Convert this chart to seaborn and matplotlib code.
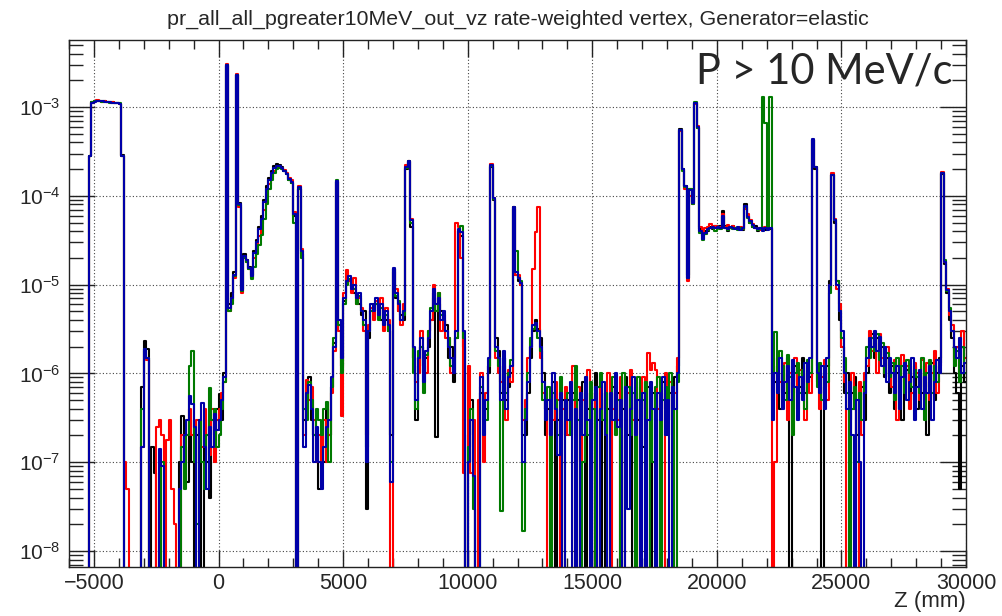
import numpy as np
import pandas as pd
import matplotlib
matplotlib.use("Agg")
import matplotlib.pyplot as plt
import matplotlib.ticker as mticker
import seaborn as sns

# rate per 100 mm bin in vz, bins from -6000 mm to 30000 mm
z_low, z_high, z_step = -6000, 30000, 100

rate_black = [
    0, 0, 0, 0, 0, 0, 0, 0, 2.8e-4, 1.13e-3, 1.16e-3, 1.17e-3, 1.18e-3, 1.17e-3, 1.16e-3, 1.15e-3, 1.14e-3, 1.13e-3, 1.12e-3, 1.11e-3,
    1.09e-3, 2.9e-4, 0, 0, 0, 0, 0, 0, 0, 7e-7, 2.3e-6, 1.9e-6, 0, 1.5e-7, 7.5e-8, 0, 0, 0, 0, 0,
    0, 0, 0, 0, 1e-7, 3.3e-7, 1.5e-7, 6e-8, 3e-7, 1e-7, 0, 2e-7, 1e-7, 0, 3e-7, 1e-7, 4e-8, 3e-7, 2e-7, 4e-7,
    5.8e-7, 3e-7, 1e-6, 2.9e-3, 6e-6, 8e-6, 1.4e-5, 2.3e-3, 8.3e-5, 9e-6, 2.2e-5, 1.9e-5, 1.6e-5, 1.3e-5, 2.4e-5, 3.2e-5, 4.5e-5, 6e-5, 9e-5, 1.3e-4,
    1.6e-4, 1.9e-4, 2.15e-4, 2.3e-4, 2.2e-4, 2.1e-4, 1.9e-4, 1.75e-4, 1.5e-4, 1.4e-4, 6e-5, 0, 1.2e-4, 2.2e-5, 3e-7, 5e-7, 9e-7, 3e-7, 2e-7, 1e-7,
    5e-8, 2e-7, 1e-7, 4e-7, 2e-7, 7e-7, 2.2e-6, 1.45e-4, 3.5e-6, 1.2e-6, 6.5e-6, 1.2e-5, 1.1e-5, 1e-5, 8e-6, 7.5e-6, 6e-6, 4.5e-6, 5e-6, 3e-8,
    2.5e-6, 5e-6, 6e-6, 6e-6, 5e-6, 4e-6, 4.5e-6, 4e-6, 3e-6, 2e-7, 1.5e-5, 7e-6, 5e-6, 4.5e-6, 4e-6, 2e-4, 2.4e-4, 4.5e-5, 1.5e-6, 3e-7,
    1.2e-6, 2e-6, 1e-6, 1.5e-6, 2e-6, 4e-6, 8e-6, 1.9e-7, 6e-6, 5e-6, 4e-6, 3.5e-6, 1.5e-6, 2e-6, 8e-7, 2.5e-6, 4e-5, 3.5e-5, 2e-6, 0,
    2e-7, 5e-7, 1e-7, 0, 0, 6e-7, 3e-7, 4e-7, 1e-6, 2.1e-4, 9e-5, 2.5e-6, 1.8e-6, 6e-7, 1.5e-6, 5e-7, 7e-7, 1e-6, 7.2e-5, 1.3e-5,
    1.1e-5, 1e-5, 2e-7, 2e-7, 6e-7, 1.5e-6, 3e-6, 4e-6, 3.2e-6, 2.5e-6, 1e-6, 2e-7, 4e-7, 3e-7, 8e-7, 0, 3e-7, 4e-7, 5e-7, 2e-7,
    5e-7, 3e-7, 6e-7, 0, 5e-7, 3e-7, 8e-7, 0, 4e-7, 6e-7, 0, 1e-6, 3e-7, 5e-7, 0, 6e-7, 4e-7, 2e-7, 7e-7, 3e-7,
    6e-7, 0, 4e-7, 9e-7, 2e-7, 5e-7, 0, 6e-7, 3e-7, 8e-7, 1.5e-7, 5e-7, 7e-7, 0, 6e-7, 3e-7, 0, 5e-7, 8e-7, 4e-7,
    3e-7, 6e-7, 0, 9e-7, 1.2e-6, 5.6e-4, 2e-4, 1.3e-4, 1.3e-5, 1.2e-4, 8.5e-5, 1.12e-3, 5.8e-4, 4.2e-5, 3.5e-5, 4e-5, 4e-5, 4.5e-5, 4.2e-5, 4.6e-5,
    4.4e-5, 4.6e-5, 6.7e-5, 4.6e-5, 4e-5, 4.3e-5, 4.6e-5, 4.4e-5, 4.3e-5, 4.4e-5, 4.1e-5, 8e-5, 6e-5, 5e-5, 4.5e-5, 4.6e-5, 4e-5, 4.4e-5, 4.2e-5, 4.1e-5,
    4.3e-5, 4.2e-5, 5e-7, 8e-7, 1.2e-6, 4e-7, 1e-6, 6e-7, 1.5e-6, 0, 8e-7, 1.2e-6, 5e-7, 7e-7, 1.5e-6, 6e-7, 1e-6, 9e-7, 4.3e-4, 2e-4,
    8e-7, 1e-6, 0, 7e-7, 1.2e-6, 1.1e-5, 1.7e-4, 5e-5, 1.1e-5, 4e-6, 2e-6, 6e-7, 1e-6, 3e-7, 6e-7, 9e-7, 2e-7, 5e-7, 7e-7, 3e-7,
    1e-6, 2e-6, 2.8e-6, 1.5e-6, 2.5e-6, 1.6e-6, 2e-6, 9e-7, 1.5e-6, 6e-7, 1.2e-6, 4e-7, 1e-6, 1.4e-6, 3e-7, 8e-7, 1.1e-6, 5e-7, 9e-7, 1.2e-6,
    4e-7, 1e-6, 6e-7, 1.2e-6, 2e-7, 8e-7, 1.3e-6, 5e-7, 1e-6, 1.5e-6, 1.75e-4, 1.7e-5, 8e-6, 4e-6, 2.5e-6, 1e-6, 6e-7, 5e-8, 1.2e-6, 8e-7,
]

rate_red = [
    0, 0, 0, 0, 0, 0, 0, 0, 2.8e-4, 1.12e-3, 1.16e-3, 1.19e-3, 1.17e-3, 1.15e-3, 1.16e-3, 1.15e-3, 1.13e-3, 1.14e-3, 1.12e-3, 1.1e-3,
    1.08e-3, 2.8e-4, 1e-7, 5e-8, 0, 0, 0, 0, 0, 1.5e-7, 1.8e-6, 1.4e-6, 0, 0, 0, 2.5e-7, 3e-7, 2e-7, 0, 1.8e-7,
    3e-7, 5e-8, 2e-8, 0, 0, 2e-7, 1e-7, 2e-7, 4e-7, 2e-7, 1e-7, 3e-7, 2e-7, 1.5e-7, 4e-7, 2e-7, 1.2e-7, 4e-7, 1e-7, 3e-7,
    4e-7, 6e-7, 8e-7, 3.05e-3, 5e-6, 6.5e-6, 1.2e-5, 2.35e-3, 7.5e-5, 8e-6, 2e-5, 1.8e-5, 1.5e-5, 1.2e-5, 2e-5, 2.6e-5, 3.5e-5, 4.8e-5, 7e-5, 1e-4,
    1.35e-4, 1.65e-4, 1.9e-4, 2.05e-4, 2.1e-4, 2.05e-4, 1.95e-4, 1.8e-4, 1.6e-4, 1.5e-4, 6.5e-5, 0, 1.3e-4, 2.5e-5, 2e-7, 8.5e-7, 5e-7, 7e-7, 3e-7, 1e-7,
    2e-7, 1e-7, 3e-7, 1e-7, 2e-7, 6e-7, 1.8e-6, 1.45e-4, 3e-6, 3.3e-7, 8e-6, 1.45e-5, 1.1e-5, 8e-6, 1.2e-5, 6e-6, 7e-6, 5.5e-6, 3e-6, 2e-7,
    3.5e-6, 5.5e-6, 4e-6, 6.5e-6, 5e-6, 7e-6, 3e-6, 5.5e-6, 4e-6, 0, 1.4e-5, 9e-6, 5e-6, 3.5e-6, 6e-6, 2.2e-4, 2.45e-4, 5.5e-5, 1.5e-6, 8e-7,
    1e-6, 3e-6, 1.2e-6, 1e-6, 3e-6, 4e-6, 1e-5, 5e-6, 8e-6, 3e-6, 4.5e-6, 2.5e-6, 2.5e-6, 1e-6, 1.5e-6, 4.9e-5, 4.5e-5, 2e-5, 7.6e-8, 0,
    1.2e-6, 7.5e-8, 3e-7, 0, 5e-7, 1e-6, 1e-7, 6e-7, 1.2e-6, 2.3e-4, 9.5e-5, 1.5e-6, 1e-6, 8e-7, 1.2e-6, 3e-7, 1.1e-6, 8e-7, 7.5e-5, 1.3e-5,
    1.3e-5, 1e-5, 3e-7, 5e-7, 1.5e-6, 2e-6, 1.5e-5, 3.9e-5, 7.5e-5, 1.5e-6, 6e-7, 4e-7, 0, 6e-7, 3e-7, 8e-7, 5e-7, 0, 4e-7, 7e-7,
    2e-7, 5e-7, 1.2e-6, 0, 7e-7, 1e-7, 5e-7, 3e-7, 1.1e-6, 4e-7, 0, 6e-7, 0, 8e-7, 3e-7, 5e-7, 1e-6, 0, 4e-7, 6e-7,
    3e-7, 9e-7, 0, 2e-7, 6e-7, 1.1e-6, 3e-7, 7e-7, 0, 4e-7, 9e-7, 3e-7, 1.7e-6, 1.1e-6, 1.3e-6, 1.1e-6, 4e-7, 6e-7, 0, 1e-6,
    4e-7, 8e-7, 3e-7, 6e-7, 1.5e-6, 5.4e-4, 1.95e-4, 1.2e-4, 1.1e-5, 1e-4, 8e-5, 1.08e-3, 6.2e-4, 4.5e-5, 3.6e-5, 4.4e-5, 4.5e-5, 4.8e-5, 4.4e-5, 4.6e-5,
    4.3e-5, 4.5e-5, 6.2e-5, 4.5e-5, 4.7e-5, 4.4e-5, 4.6e-5, 4.3e-5, 4.4e-5, 4.5e-5, 4.2e-5, 7.2e-5, 6.2e-5, 5.3e-5, 4.8e-5, 4.3e-5, 4.4e-5, 4.1e-5, 4.2e-5, 4.5e-5,
    4.2e-5, 4.4e-5, 0, 1e-7, 1.5e-6, 8e-7, 5e-7, 1.3e-6, 3e-7, 1e-6, 6e-7, 1.5e-6, 4e-7, 1.1e-6, 7e-7, 3e-7, 1.2e-6, 6e-7, 4.3e-4, 2.1e-4,
    1.2e-6, 4e-7, 9e-7, 1.4e-6, 5e-7, 1e-5, 1.8e-4, 5.5e-5, 9e-6, 6e-6, 2e-6, 8e-7, 0, 5e-7, 1e-6, 4e-7, 0, 8e-7, 2e-7, 1e-6,
    1.2e-6, 3e-6, 1.8e-6, 2.2e-6, 1e-6, 2.8e-6, 1.5e-6, 1e-6, 2e-6, 1.2e-6, 7e-7, 1.4e-6, 3e-7, 1e-6, 1.6e-6, 8e-7, 1.2e-6, 4e-7, 6e-7, 1.3e-6,
    1e-6, 5e-7, 1.4e-6, 7e-7, 1.3e-6, 5e-7, 1e-6, 1.8e-6, 6e-7, 1.2e-6, 1.85e-4, 1.8e-5, 9e-6, 4.5e-6, 3.5e-6, 1.5e-6, 2e-6, 1e-6, 3e-6, 1.5e-6,
]

rate_green = [
    0, 0, 0, 0, 0, 0, 0, 0, 2.8e-4, 1.13e-3, 1.16e-3, 1.17e-3, 1.16e-3, 1.15e-3, 1.14e-3, 1.14e-3, 1.12e-3, 1.12e-3, 1.11e-3, 1.12e-3,
    1.1e-3, 2.8e-4, 0, 0, 0, 0, 0, 0, 0, 4e-7, 1.9e-6, 1.5e-6, 0, 0, 0, 0, 0, 1e-7, 0, 0,
    0, 0, 0, 0, 0, 1.5e-7, 5e-8, 2e-7, 1.2e-6, 1.8e-6, 1e-7, 2e-8, 3e-7, 1e-7, 5e-8, 2e-7, 6.9e-7, 3e-7, 4e-7, 1.5e-7,
    2e-7, 4e-7, 8e-7, 2.95e-3, 5e-6, 6e-6, 1.25e-5, 2.3e-3, 7.8e-5, 8.5e-6, 2e-5, 1.8e-5, 1.5e-5, 1.15e-5, 1.6e-5, 2.2e-5, 2.8e-5, 3.6e-5, 5.5e-5, 8e-5,
    1.2e-4, 1.5e-4, 1.8e-4, 2e-4, 2.05e-4, 2e-4, 1.9e-4, 1.75e-4, 1.5e-4, 1.4e-4, 5e-5, 0, 1.2e-4, 2e-5, 4e-7, 3e-7, 8e-7, 5e-7, 2e-7, 4e-7,
    3e-7, 2e-7, 4e-7, 4.8e-7, 1e-7, 7e-7, 2.5e-6, 1.5e-4, 3.5e-6, 1e-6, 6e-6, 1e-5, 1.15e-5, 1e-5, 9e-6, 6e-6, 7.5e-6, 5e-6, 3.5e-6, 1.5e-7,
    3e-6, 5e-6, 5.5e-6, 6e-6, 4e-6, 5.5e-6, 4e-6, 4.5e-6, 3e-6, 1e-7, 1.5e-5, 7.5e-6, 6.5e-6, 4e-6, 4.5e-6, 2.05e-4, 2.45e-4, 5e-5, 1e-6, 4e-7,
    1.8e-6, 2e-6, 6e-7, 1.6e-6, 3e-6, 5.5e-6, 7e-6, 5e-6, 8e-6, 4.5e-6, 4e-6, 3e-6, 2.5e-6, 1.2e-6, 1.1e-6, 2.5e-6, 4e-5, 4.6e-5, 2.5e-6, 0,
    1.5e-7, 4e-7, 3e-8, 0, 0, 7e-7, 4e-7, 3e-7, 1.2e-6, 2.15e-4, 9.3e-5, 1.8e-6, 1.2e-6, 2.8e-8, 1.5e-6, 6e-7, 1e-6, 1.4e-6, 7.4e-5, 2.4e-5,
    1.2e-5, 1.1e-5, 1.7e-8, 4e-7, 1e-6, 2.5e-6, 3.2e-6, 3.5e-6, 2.5e-6, 1.8e-6, 5e-7, 4e-7, 7e-7, 0, 6e-7, 5e-7, 2e-7, 9e-7, 0, 4e-7,
    6e-7, 2e-7, 5e-7, 1.2e-6, 3e-7, 0, 1e-7, 6e-7, 2e-7, 8e-7, 4e-7, 0, 7e-7, 1e-6, 3e-7, 6e-7, 0, 4e-7, 9e-7, 2e-7,
    5e-7, 0, 1e-6, 4e-7, 7e-7, 2e-7, 6e-7, 0, 9e-7, 3e-7, 5e-7, 8e-7, 0, 5e-7, 1e-7, 7e-7, 9e-7, 0, 5e-7, 7e-7,
    2e-7, 1e-6, 5e-7, 0, 8e-7, 5.5e-4, 1.9e-4, 1.25e-4, 1.2e-5, 1.2e-4, 8e-5, 1.15e-3, 5.8e-4, 3.8e-5, 3.2e-5, 3.7e-5, 4.1e-5, 4.4e-5, 4.3e-5, 4e-5,
    4.4e-5, 4.2e-5, 5.8e-5, 4.3e-5, 4.1e-5, 4.4e-5, 4.2e-5, 4.3e-5, 4.1e-5, 4.3e-5, 4.2e-5, 7.4e-5, 5.6e-5, 5e-5, 4.5e-5, 4.3e-5, 4.1e-5, 4.2e-5, 1.3e-3, 6.6e-4,
    4.2e-5, 1.3e-3, 1e-6, 2.9e-6, 8e-7, 1.8e-6, 1.2e-6, 5e-7, 1.6e-6, 9e-7, 2e-7, 1e-6, 1.3e-6, 6e-7, 1.1e-6, 4e-7, 1.4e-6, 1e-6, 4.3e-4, 2.1e-4,
    7e-7, 1.3e-6, 5e-7, 1e-6, 8e-7, 8e-6, 1.72e-4, 5.3e-5, 1.1e-5, 5e-6, 2.5e-6, 1.5e-6, 6e-7, 0, 4e-7, 7e-7, 1e-7, 6e-7, 3e-7, 8e-7,
    2e-6, 1.5e-6, 2.5e-6, 1.8e-6, 2.8e-6, 1.4e-6, 2.2e-6, 1e-6, 1.7e-6, 9e-7, 1.3e-6, 5e-7, 1.5e-6, 8e-7, 1.2e-6, 6e-7, 1.4e-6, 1e-6, 7e-7, 1.1e-6,
    9e-7, 6e-7, 1.5e-6, 3e-7, 1e-6, 1.4e-6, 6e-7, 1.2e-6, 8e-7, 1.3e-6, 1.8e-4, 1.9e-5, 8.5e-6, 5.5e-6, 3e-6, 1.2e-6, 1.8e-6, 8e-7, 2e-6, 1e-6,
]

rate_blue = [
    0, 0, 0, 0, 0, 0, 0, 0, 2.8e-4, 1.12e-3, 1.15e-3, 1.16e-3, 1.17e-3, 1.16e-3, 1.15e-3, 1.14e-3, 1.13e-3, 1.12e-3, 1.11e-3, 1.1e-3,
    1.08e-3, 2.8e-4, 0, 0, 0, 0, 0, 0, 0, 1.5e-7, 1.9e-6, 1.5e-6, 0, 0, 0, 0, 1.4e-7, 9e-8, 0, 0,
    0, 0, 0, 0, 5e-8, 1e-7, 2e-7, 3e-7, 5.5e-7, 4.5e-7, 2.5e-7, 0, 3e-7, 4.6e-7, 1.5e-7, 5e-8, 2.5e-7, 1.5e-7, 3.5e-7, 2.3e-7,
    3e-7, 5e-7, 9e-7, 3e-3, 5.5e-6, 7e-6, 1.3e-5, 2.3e-3, 8e-5, 8.7e-6, 2.1e-5, 1.9e-5, 1.55e-5, 1.25e-5, 2.3e-5, 3e-5, 4.2e-5, 5.5e-5, 8.5e-5, 1.2e-4,
    1.5e-4, 1.8e-4, 2.05e-4, 2.18e-4, 2.15e-4, 2.05e-4, 1.9e-4, 1.75e-4, 1.55e-4, 1.45e-4, 6.3e-5, 0, 1.25e-4, 2.4e-5, 1.5e-7, 6e-7, 7.5e-7, 4e-7, 1e-7, 2.5e-7,
    1e-7, 5e-8, 1.5e-7, 2.5e-7, 3e-7, 9e-7, 2e-6, 1.48e-4, 4e-6, 1.5e-6, 7e-6, 1.1e-5, 1.25e-5, 9e-6, 1e-5, 7e-6, 8e-6, 5e-6, 4e-6, 1e-7,
    3e-6, 6e-6, 5e-6, 7e-6, 4.5e-6, 6e-6, 3.5e-6, 5e-6, 3.5e-6, 6e-8, 1.55e-5, 8e-6, 6e-6, 4e-6, 5e-6, 2.1e-4, 2.5e-4, 5.4e-5, 2e-6, 5e-7,
    1.5e-6, 2.5e-6, 8e-7, 1.8e-6, 2.5e-6, 5e-6, 9e-6, 6e-6, 7e-6, 4e-6, 5e-6, 3e-6, 2e-6, 1.5e-6, 1e-6, 3e-6, 4.2e-5, 3.9e-5, 3e-6, 0,
    1e-7, 3e-7, 7e-8, 0, 0, 9e-7, 2e-7, 5e-7, 1.5e-6, 2.2e-4, 9.5e-5, 2e-6, 1.5e-6, 5e-7, 1.8e-6, 4e-7, 9e-7, 1.2e-6, 7.5e-5, 1.4e-5,
    1.2e-5, 1.05e-5, 1e-7, 3e-7, 8e-7, 2e-6, 3.5e-6, 3.7e-6, 3e-6, 2e-6, 8e-7, 3e-7, 5e-7, 2e-7, 1e-6, 4e-7, 1.2e-7, 6e-7, 0, 5e-7,
    3e-7, 8e-7, 0, 4e-7, 0, 6e-7, 2e-7, 9e-7, 3e-7, 0, 5e-7, 7e-7, 0, 4e-7, 8e-7, 2e-7, 0, 6e-7, 3e-7, 1e-6,
    2.5e-7, 5e-7, 0, 7e-7, 3e-8, 4e-7, 9e-7, 2e-7, 5e-7, 0, 6e-7, 0, 3e-7, 8e-7, 4e-7, 0, 6e-7, 3e-7, 9e-7, 2e-7,
    5e-7, 0, 7e-7, 4e-7, 1e-6, 5.5e-4, 2e-4, 1.28e-4, 1.2e-5, 1.17e-4, 8.3e-5, 1.1e-3, 6e-4, 4e-5, 3.3e-5, 3.8e-5, 4.2e-5, 4.3e-5, 4.5e-5, 4.3e-5,
    4.5e-5, 4.3e-5, 6e-5, 4.4e-5, 4.2e-5, 4.5e-5, 4.4e-5, 4.2e-5, 4.5e-5, 4.1e-5, 4.3e-5, 7.6e-5, 5.8e-5, 5.2e-5, 4.7e-5, 4.4e-5, 4.2e-5, 4.3e-5, 4e-5, 4.3e-5,
    4.1e-5, 4.3e-5, 3e-7, 1e-6, 6e-7, 1.5e-6, 4e-7, 8e-7, 1.2e-6, 5e-7, 1.4e-6, 7e-7, 3e-7, 9e-7, 5e-7, 1.3e-6, 8e-7, 1.5e-6, 4.4e-4, 2.1e-4,
    1e-6, 6e-7, 1.2e-6, 4e-7, 1.5e-6, 1e-5, 1.73e-4, 5.3e-5, 1e-5, 5e-6, 3e-6, 1e-6, 4e-7, 8e-7, 2e-7, 0, 5e-7, 1e-7, 0, 6e-7,
    1.5e-6, 2.5e-6, 2e-6, 3e-6, 1.8e-6, 2.6e-6, 1.2e-6, 2e-6, 8e-7, 1.5e-6, 1e-6, 6e-7, 1.2e-6, 4e-7, 9e-7, 1.3e-6, 5e-7, 8e-7, 1.5e-6, 3e-7,
    7e-7, 1.1e-6, 4e-7, 9e-7, 6e-7, 1.2e-6, 3e-7, 8e-7, 1.4e-6, 1e-6, 1.8e-4, 1.8e-5, 8.7e-6, 5e-6, 3e-6, 2e-6, 1.5e-6, 2.5e-6, 1e-6, 1.3e-6,
]

series = [
    ("black", rate_black, "#000000"),
    ("red", rate_red, "#ff0000"),
    ("green", rate_green, "#007a00"),
    ("blue", rate_blue, "#0000a8"),
]

title = "pr_all_all_pgreater10MeV_out_vz rate-weighted vertex, Generator=elastic"
y_major = [1e-8, 1e-7, 1e-6, 1e-5, 1e-4, 1e-3]

z_edges = np.arange(z_low, z_high + 1, z_step)
z_centers = z_edges[:-1] + z_step / 2

sns.set_theme(style="ticks")
plt.rcParams['font.family'] = ['Liberation Sans', 'DejaVu Sans']
plt.rcParams['mathtext.fontset'] = 'custom'
plt.rcParams['mathtext.rm'] = 'Liberation Sans'
plt.rcParams['mathtext.it'] = 'Liberation Sans:italic'
plt.rcParams['mathtext.bf'] = 'Liberation Sans:bold'

fig = plt.figure(figsize=(10.02, 6.16), dpi=100)
ax = fig.add_axes([69 / 1002, 1 - 567 / 616, (966 - 69) / 1002, (567 - 40) / 616])

for name, vals, col in series:
    w = np.asarray(vals, dtype=float)
    if len(w) != len(z_centers):
        raise ValueError(f"{name}: {len(w)} bins")
    # empty bins go below the log axis
    df = pd.DataFrame({"z": z_centers, "rate": np.where(w > 0, w, 1e-12)})
    sns.histplot(data=df, x="z", weights="rate", bins=list(z_edges), element="step",
                 fill=False, color=col, linewidth=1.5, ax=ax)

ax.set_yscale("log")
ax.set_xlim(-6000, 30000)
ax.set_ylim(6.6e-9, 5.7e-3)
ax.set_xlabel("")
ax.set_ylabel("")

ax.xaxis.set_major_locator(mticker.MultipleLocator(5000))
ax.xaxis.set_minor_locator(mticker.MultipleLocator(1000))
ax.yaxis.set_major_locator(mticker.FixedLocator(y_major))
ax.yaxis.set_major_formatter(mticker.LogFormatterSciNotation())
y_minor = [m * d for d in [1e-9] + y_major for m in range(2, 10)]
y_minor = [v for v in y_minor if 6.6e-9 < v < 5.7e-3]
ax.yaxis.set_minor_locator(mticker.FixedLocator(y_minor))
ax.yaxis.set_minor_formatter(mticker.NullFormatter())

ax.tick_params(which="both", direction="in", top=True, right=True, color="#222222")
ax.tick_params(axis="x", which="major", length=12, width=1, labelsize=15.5, pad=4)
ax.tick_params(axis="x", which="minor", length=6.5, width=1)
ax.tick_params(axis="y", which="major", length=19, width=1, labelsize=15, pad=6)
ax.tick_params(axis="y", which="minor", length=10, width=1)

ax.set_axisbelow(True)
ax.grid(True, which="major", color="#444444", linestyle=(0, (1, 2)), linewidth=0.8)
for sp in ax.spines.values():
    sp.set_color("#222222")
    sp.set_linewidth(1.0)

fig.text(518 / 1002, 1 - 25 / 616, title, ha="center", va="baseline", fontsize=15.4)
fig.text(952 / 1002, 1 - 84 / 616, "P > 10 MeV/c", ha="right", va="baseline",
         fontsize=30, family=["Lato", "DejaVu Sans"])
fig.text(966 / 1002, 1 - 607 / 616, "Z (mm)", ha="right", va="baseline", fontsize=16)

fig.savefig("out.png", dpi=100)
plt.close(fig)
